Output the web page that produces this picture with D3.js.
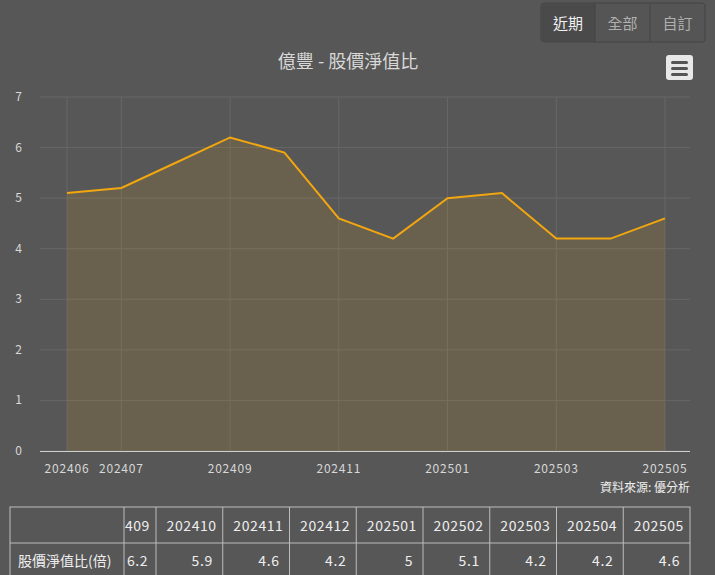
<!DOCTYPE html>
<html><head><meta charset="utf-8">
<script src="https://cdn.jsdelivr.net/npm/d3@7"></script>
<style>body{margin:0;background:#575757;font-family:"Noto Sans CJK TC","Noto Sans",sans-serif}</style>
</head><body><svg id="c" width="715" height="575"></svg>
<script>
const months = ["202406","202407","202408","202409","202410","202411","202412","202501","202502","202503","202504","202505"];
const pbValues = [5.1, 5.2, 5.7, 6.2, 5.9, 4.6, 4.2, 5.0, 5.1, 4.2, 4.2, 4.6];
const labelMonths = ["202406","202407","202409","202411","202501","202503","202505"];
const yTicks = [0,1,2,3,4,5,6,7];
const tableMonths = ["202409","202410","202411","202412","202501","202502","202503","202504","202505"];
const tableValues = [6.2, 5.9, 4.6, 4.2, 5, 5.1, 4.2, 4.2, 4.6];

const svg = d3.select("#c");
const x = d3.scalePoint().domain(months).range([67, 665]);
const y = d3.scaleLinear().domain([0, 7]).range([451, 97]);
const txt = "#d8d8d8";

// buttons
const btns = ["近期","全部","自訂"];
const bw = [54, 55, 55];
let bx = 541;
svg.append("rect").attr("x",541).attr("y",3).attr("width",164).attr("height",39).attr("rx",3).attr("fill","#555").attr("stroke","#444");
btns.forEach((b,i)=>{
  if(i===0) svg.append("rect").attr("x",bx).attr("y",3).attr("width",bw[i]).attr("height",39).attr("fill","#4a4a4a");
  if(i>0) svg.append("line").attr("x1",bx).attr("x2",bx).attr("y1",3).attr("y2",42).attr("stroke","#444");
  svg.append("text").attr("x",bx+bw[i]/2).attr("y",29).attr("text-anchor","middle").attr("font-size",15)
    .attr("fill", i===0 ? "#f0f0f0" : "#b0b0b0").text(b);
  bx += bw[i];
});
// menu icon
svg.append("rect").attr("x",666).attr("y",55).attr("width",27).attr("height",25).attr("rx",3).attr("fill","#e8e8e8");
[61,67,73].forEach(yy=>svg.append("rect").attr("x",671).attr("y",yy).attr("width",17).attr("height",3).attr("rx",1.5).attr("fill","#555"));

svg.append("text").attr("x",348).attr("y",68).attr("text-anchor","middle").attr("font-size",18).attr("fill",txt).text("億豐 - 股價淨值比");

// grid
svg.append("g").selectAll("line").data(yTicks).join("line")
  .attr("x1",40).attr("x2",690).attr("y1",d=>y(d)).attr("y2",d=>y(d)).attr("stroke","#676767");
svg.append("g").selectAll("line").data(labelMonths).join("line")
  .attr("x1",d=>x(d)).attr("x2",d=>x(d)).attr("y1",97).attr("y2",451).attr("stroke","#676767");
svg.append("g").selectAll("text").data(yTicks).join("text")
  .attr("x",22).attr("y",d=>y(d)+4).attr("text-anchor","end").attr("font-size",12).attr("fill",txt).text(d=>d);

svg.append("path").datum(pbValues)
  .attr("d", d3.area().x((d,i)=>x(months[i])).y0(y(0)).y1(d=>y(d)))
  .attr("fill","rgba(240,165,10,0.12)");
svg.append("path").datum(pbValues)
  .attr("d", d3.line().x((d,i)=>x(months[i])).y(d=>y(d)))
  .attr("fill","none").attr("stroke","#f2a60f").attr("stroke-width",2);

svg.append("line").attr("x1",40).attr("x2",690).attr("y1",451.5).attr("y2",451.5).attr("stroke","#cfcfcf").attr("stroke-width",1);
svg.append("g").selectAll("text").data(labelMonths).join("text")
  .attr("x",d=>x(d)).attr("y",473).attr("text-anchor","middle").attr("font-size",12).attr("letter-spacing",0.8).attr("fill",txt).text(d=>d);
svg.append("text").attr("x",690).attr("y",492).attr("text-anchor","end").attr("font-size",12).attr("fill","#eee").text("資料來源: 優分析");

// table
const tc = "#bdbdbd";
const cw = 66.75, x0 = 156;
const colX = i => i===0 ? 124 : x0 + (i-1)*cw;
const colW = i => i===0 ? 32 : cw;
svg.append("rect").attr("x",10).attr("y",507).attr("width",680).attr("height",80).attr("fill","none").attr("stroke",tc);
svg.append("line").attr("x1",10).attr("x2",690).attr("y1",543).attr("y2",543).attr("stroke",tc);
svg.append("line").attr("x1",124).attr("x2",124).attr("y1",507).attr("y2",587).attr("stroke",tc);
tableMonths.forEach((m,i)=>{
  const cx = colX(i), w = colW(i);
  if(i>0) svg.append("line").attr("x1",cx).attr("x2",cx).attr("y1",507).attr("y2",587).attr("stroke",tc);
  const label = i===0 ? m.slice(3) : m;
  svg.append("text").attr("x",cx+w-6).attr("y",531).attr("text-anchor","end").attr("font-size",14).attr("letter-spacing",0.6).attr("fill","#eee").text(label);
  svg.append("text").attr("x",i===0?cx+3:cx+w-10).attr("y",566).attr("text-anchor",i===0?"start":"end").attr("font-size",14).attr("letter-spacing",0.6).attr("fill","#eee").text(tableValues[i]);
});
svg.append("text").attr("x",18).attr("y",566).attr("font-size",14).attr("fill","#eee").text("股價淨值比(倍)");
</script></body></html>
